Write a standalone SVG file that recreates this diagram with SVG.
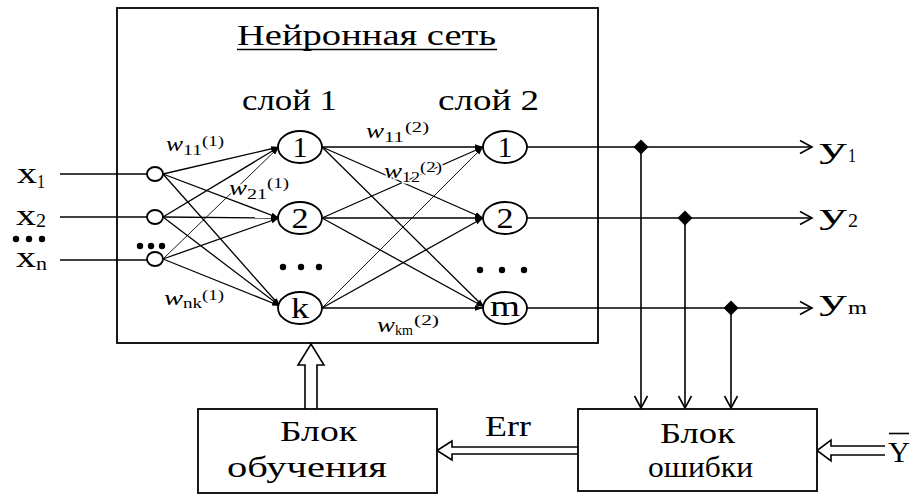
<svg xmlns="http://www.w3.org/2000/svg" width="918" height="500" viewBox="0 0 918 500">
<style>
  .ln { stroke:#000; stroke-width:1.6; fill:none; }
  .cn { stroke:#000; stroke-width:1.3; fill:none; }
  .cn2 { stroke:#000; stroke-width:0.9; fill:none; }
  .nd { stroke:#000; stroke-width:1.8; fill:#fff; }
  .box { stroke:#000; stroke-width:1.8; fill:#fff; }
  .hol { stroke:#000; stroke-width:1.6; fill:#fff; }
  .t { font-family:"Liberation Serif", "Times New Roman", "DejaVu Serif", serif; fill:#000; }
  .big { font-size:30px; }
  .num { font-size:30px; text-anchor:middle; }
  .w { font-size:22px; font-style:italic; paint-order:stroke; stroke:#fff; stroke-width:3px; }
  .ws { font-size:15px; paint-order:stroke; stroke:#fff; stroke-width:3px; }
  .sub { font-size:18px; }
</style>
<defs>
  <marker id="open" markerUnits="userSpaceOnUse" markerWidth="16" markerHeight="16" refX="14" refY="8" orient="auto">
    <path d="M2,1.5 L14,8 L2,14.5" fill="none" stroke="#000" stroke-width="1.6"/>
  </marker>
  <marker id="sm" markerUnits="userSpaceOnUse" markerWidth="9" markerHeight="7" refX="8" refY="3.5" orient="auto">
    <path d="M0,0.8 L8,3.5 L0,6.2 z" fill="#000"/>
  </marker>
</defs>
<rect width="918" height="500" fill="#fff"/>

<g id="network-box">
  <rect class="box" x="117" y="8" width="481" height="335" fill="none"/>
  <text class="t big" x="237" y="45" textLength="259" lengthAdjust="spacingAndGlyphs">Нейронная сеть</text>
  <line class="ln" x1="237" y1="49.5" x2="497" y2="49.5"/>
  <text class="t big" x="242" y="110" textLength="95" lengthAdjust="spacingAndGlyphs">слой 1</text>
  <text class="t big" x="438" y="110" textLength="101" lengthAdjust="spacingAndGlyphs">слой 2</text>
</g>

<g id="connectors">
  <line class="ln" x1="60" y1="174" x2="147" y2="174"/>
  <line class="ln" x1="60" y1="217" x2="147" y2="217"/>
  <line class="ln" x1="60" y1="260" x2="147" y2="260"/>
  <line class="cn" x1="163" y1="174" x2="279" y2="147" marker-end="url(#sm)"/>
  <line class="cn" x1="163" y1="174" x2="279" y2="218" marker-end="url(#sm)"/>
  <line class="cn" x1="163" y1="174" x2="280" y2="306" marker-end="url(#sm)"/>
  <line class="cn" x1="163" y1="217" x2="279" y2="147" marker-end="url(#sm)"/>
  <line class="cn" x1="163" y1="217" x2="279" y2="218" marker-end="url(#sm)"/>
  <line class="cn" x1="163" y1="217" x2="280" y2="306" marker-end="url(#sm)"/>
  <line class="cn2" x1="163" y1="259" x2="279" y2="147" marker-end="url(#sm)"/>
  <line class="cn" x1="163" y1="259" x2="279" y2="218" marker-end="url(#sm)"/>
  <line class="cn" x1="163" y1="259" x2="280" y2="306" marker-end="url(#sm)"/>
  <line class="cn" x1="322" y1="147" x2="483" y2="147" marker-end="url(#sm)"/>
  <line class="cn" x1="322" y1="147" x2="483" y2="218" marker-end="url(#sm)"/>
  <line class="cn" x1="322" y1="147" x2="484" y2="307" marker-end="url(#sm)"/>
  <line class="cn" x1="322" y1="218" x2="483" y2="147" marker-end="url(#sm)"/>
  <line class="cn" x1="322" y1="218" x2="483" y2="218" marker-end="url(#sm)"/>
  <line class="cn" x1="322" y1="218" x2="484" y2="307" marker-end="url(#sm)"/>
  <line class="cn2" x1="322" y1="308" x2="483" y2="147" marker-end="url(#sm)"/>
  <line class="cn" x1="322" y1="308" x2="483" y2="218" marker-end="url(#sm)"/>
  <line class="cn" x1="322" y1="308" x2="483" y2="308" marker-end="url(#sm)"/>
  <line class="ln" x1="527" y1="147" x2="812" y2="147" marker-end="url(#open)"/>
  <line class="ln" x1="527" y1="218" x2="812" y2="218" marker-end="url(#open)"/>
  <line class="ln" x1="527" y1="308" x2="812" y2="308" marker-end="url(#open)"/>
  <line class="ln" x1="641" y1="147" x2="641" y2="408" marker-end="url(#open)"/>
  <line class="ln" x1="685" y1="218" x2="685" y2="408" marker-end="url(#open)"/>
  <line class="ln" x1="731" y1="308" x2="731" y2="408" marker-end="url(#open)"/>
  <polygon points="641,139.5 648.5,147 641,154.5 633.5,147" fill="#000"/>
  <polygon points="685,210.5 692.5,218 685,225.5 677.5,218" fill="#000"/>
  <polygon points="731,300.5 738.5,308 731,315.5 723.5,308" fill="#000"/>
  <path class="hol" d="M305,409 L305,365 L298,365 L311,344 L324,365 L317,365 L317,409"/>
  <path class="hol" d="M578,447 L452,447 L452,441 L437,450.5 L452,460 L452,454 L578,454"/>
  <path class="hol" d="M885,446 L831,446 L831,440 L817,450.5 L831,461 L831,455 L885,455"/>
</g>

<g id="inputs">
  <ellipse class="nd" cx="155" cy="174" rx="8" ry="7"/>
  <ellipse class="nd" cx="155" cy="217" rx="8" ry="7"/>
  <ellipse class="nd" cx="155" cy="259" rx="8" ry="7"/>
  <circle cx="140" cy="246" r="3.2"/><circle cx="151" cy="246" r="3.2"/><circle cx="162" cy="246" r="3.2"/>
  <text class="t big" x="17" y="183" font-size="32" textLength="20" lengthAdjust="spacingAndGlyphs">x</text>
  <text class="t sub" x="37" y="188" textLength="8" lengthAdjust="spacingAndGlyphs">1</text>
  <text class="t big" x="16" y="225" textLength="20" lengthAdjust="spacingAndGlyphs">x</text>
  <text class="t sub" x="36" y="227" textLength="10" lengthAdjust="spacingAndGlyphs">2</text>
  <circle cx="16" cy="239" r="3.2"/><circle cx="29" cy="239" r="3.2"/><circle cx="42" cy="239" r="3.2"/>
  <text class="t big" x="16" y="267" textLength="20" lengthAdjust="spacingAndGlyphs">x</text>
  <text class="t sub" x="36" y="270" textLength="11" lengthAdjust="spacingAndGlyphs">n</text>
</g>

<g id="weights">
  <text class="t w" x="166" y="151" textLength="17" lengthAdjust="spacingAndGlyphs">w</text><text class="t ws" x="183" y="155" textLength="19" lengthAdjust="spacingAndGlyphs">11</text><text class="t ws" x="202" y="146" textLength="22" lengthAdjust="spacingAndGlyphs">(1)</text>
  <text class="t w" x="229" y="195" textLength="18" lengthAdjust="spacingAndGlyphs">w</text><text class="t ws" x="247" y="199" textLength="20" lengthAdjust="spacingAndGlyphs">21</text><text class="t ws" x="267" y="188" textLength="22" lengthAdjust="spacingAndGlyphs">(1)</text>
  <text class="t w" x="164" y="305" textLength="19" lengthAdjust="spacingAndGlyphs">w</text><text class="t ws" x="183" y="308" textLength="19" lengthAdjust="spacingAndGlyphs">nk</text><text class="t ws" x="202" y="300" textLength="22" lengthAdjust="spacingAndGlyphs">(1)</text>
  <text class="t w" x="366" y="138" textLength="18" lengthAdjust="spacingAndGlyphs">w</text><text class="t ws" x="384" y="142" textLength="20" lengthAdjust="spacingAndGlyphs">11</text><text class="t ws" x="405" y="132" textLength="24" lengthAdjust="spacingAndGlyphs">(2)</text>
  <text class="t w" x="384" y="178" textLength="18" lengthAdjust="spacingAndGlyphs">w</text><text class="t ws" x="402" y="182" textLength="18" lengthAdjust="spacingAndGlyphs">12</text><text class="t ws" x="420" y="172" textLength="22" lengthAdjust="spacingAndGlyphs">(2)</text>
  <text class="t w" x="377" y="332" textLength="18" lengthAdjust="spacingAndGlyphs">w</text><text class="t ws" x="395" y="335" textLength="18" lengthAdjust="spacingAndGlyphs">km</text><text class="t ws" x="414" y="325" textLength="25" lengthAdjust="spacingAndGlyphs">(2)</text>
</g>

<g id="layer1">
  <g id="n1-1"><ellipse class="nd" cx="300" cy="147" rx="22" ry="16"/><text class="t num" x="300" y="157" textLength="15" lengthAdjust="spacingAndGlyphs">1</text></g>
  <g id="n1-2"><ellipse class="nd" cx="300" cy="218" rx="22" ry="16"/><text class="t num" x="300" y="228" textLength="17" lengthAdjust="spacingAndGlyphs">2</text></g>
  <g id="n1-k"><ellipse class="nd" cx="300" cy="308" rx="22" ry="16"/><text class="t num" x="300" y="318" textLength="18" lengthAdjust="spacingAndGlyphs">k</text></g>
  <circle cx="283" cy="267" r="3.2"/><circle cx="301" cy="267" r="3.2"/><circle cx="319" cy="267" r="3.2"/>
</g>

<g id="layer2">
  <g id="n2-1"><ellipse class="nd" cx="505" cy="147" rx="22" ry="16"/><text class="t num" x="505" y="157" textLength="15" lengthAdjust="spacingAndGlyphs">1</text></g>
  <g id="n2-2"><ellipse class="nd" cx="505" cy="218" rx="22" ry="16"/><text class="t num" x="505" y="228" textLength="17" lengthAdjust="spacingAndGlyphs">2</text></g>
  <g id="n2-m"><ellipse class="nd" cx="505" cy="308" rx="22" ry="16"/><text class="t num" x="505" y="316" textLength="30" lengthAdjust="spacingAndGlyphs">m</text></g>
  <circle cx="480" cy="270" r="3.2"/><circle cx="502" cy="270" r="3.2"/><circle cx="524" cy="270" r="3.2"/>
</g>

<g id="outputs">
  <text class="t big" x="819" y="158" textLength="28" lengthAdjust="spacingAndGlyphs">y</text>
  <text class="t sub" x="848" y="162" font-size="15" textLength="8" lengthAdjust="spacingAndGlyphs">1</text>
  <text class="t big" x="819" y="224" textLength="28" lengthAdjust="spacingAndGlyphs">y</text>
  <text class="t sub" x="848" y="227" font-size="15" textLength="10" lengthAdjust="spacingAndGlyphs">2</text>
  <text class="t big" x="819" y="310" textLength="28" lengthAdjust="spacingAndGlyphs">y</text>
  <text class="t sub" x="848" y="314" font-size="16" textLength="19" lengthAdjust="spacingAndGlyphs">m</text>
</g>

<g id="training-block">
  <rect class="box" x="198" y="409" width="239" height="84"/>
  <text class="t big" x="280" y="441" textLength="77" lengthAdjust="spacingAndGlyphs">Блок</text>
  <text class="t big" x="227" y="477" textLength="160" lengthAdjust="spacingAndGlyphs">обучения</text>
</g>

<g id="error-block">
  <rect class="box" x="578" y="409" width="239" height="82"/>
  <text class="t big" x="660" y="443" textLength="75" lengthAdjust="spacingAndGlyphs">Блок</text>
  <text class="t big" x="648" y="477" textLength="105" lengthAdjust="spacingAndGlyphs">ошибки</text>
</g>

<g id="labels">
  <text class="t big" x="485" y="436" textLength="46" lengthAdjust="spacingAndGlyphs">Err</text>
  <text class="t big" x="888" y="462" textLength="22" lengthAdjust="spacingAndGlyphs">Y</text>
  <line class="ln" x1="889" y1="433.5" x2="909" y2="433.5"/>
</g>
</svg>
